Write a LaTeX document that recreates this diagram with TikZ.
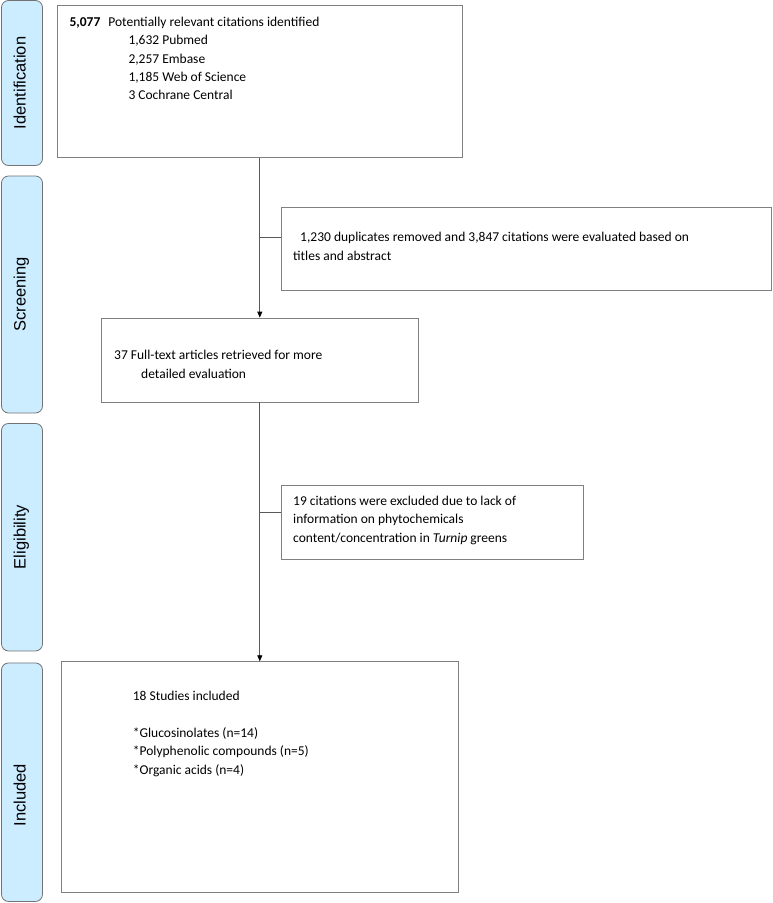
\documentclass[tikz,border=0pt]{standalone}
\usepackage{fontspec}
\setmainfont{Carlito}
\newfontfamily\phasefont{Liberation Sans}
\usetikzlibrary{arrows.meta}
\definecolor{phasefill}{RGB}{204,236,255}

\begin{document}
\begin{tikzpicture}[x=1pt, y=-1pt,
    box/.style={draw=black!50, line width=0.8pt, inner sep=0pt},
    phase/.style={draw=black!55, fill=phasefill, rounded corners=7pt, line width=0.8pt, inner sep=0pt, minimum width=41pt},
    phasetxt/.style={rotate=90, anchor=base, inner sep=0pt, font=\phasefont\fontsize{16.5}{20}\selectfont},
    txt/.style={align=left, inner sep=0pt, anchor=north west, font=\fontsize{13.5}{18.4}\selectfont},
    link/.style={draw=black!65, line width=0.8pt},
    arr/.style={link, -{Triangle[length=6pt,width=5pt,color=black]}}]
      \useasboundingbox (0, 0) rectangle (773, 903);
      % phase bars on the left
      \node [phase, minimum height=165pt] (identbar) at (22, 83) {};
      \node [phase, minimum height=237pt] (screenbar) at (22, 294.5) {};
      \node [phase, minimum height=227.5pt] (eligbar) at (22, 537.2) {};
      \node [phase, minimum height=238.5pt] (inclbar) at (22, 782.2) {};
      \node [phasetxt] (identlbl) at (25.5, 83) {Identification};
      \node [phasetxt] (screenlbl) at (25.5, 294.5) {Screening};
      \node [phasetxt] (eliglbl) at (25.5, 537) {Eligibility};
      \node [phasetxt] (incllbl) at (25.5, 795) {Included};
      % boxes
      \node [box, minimum width=404.4pt, minimum height=152pt] (ident) at (259.8, 81.7) {};
      \node [box, minimum width=490.7pt, minimum height=83pt] (dup) at (526.3, 248.5) {};
      \node [box, minimum width=317.3pt, minimum height=84pt] (full) at (259.8, 360) {};
      \node [box, minimum width=301.3pt, minimum height=74pt] (excl) at (432.3, 522) {};
      \node [box, minimum width=396.6pt, minimum height=231pt] (incl) at (259.8, 777.2) {};
      % texts
      \node [txt] (identtxt) at (69.3, 16.8) {\textbf{5,077}\hspace{8pt}Potentially relevant citations identified\\
        \hspace*{59pt}1,632 Pubmed\\ \hspace*{59pt}2,257 Embase\\
        \hspace*{59pt}1,185 Web of Science\\ \hspace*{59pt}3 Cochrane Central};
      \node [txt] (duptxt) at (293, 232.3) {\hspace*{7pt}1,230 duplicates removed and 3,847 citations were evaluated based on\\titles and abstract};
      \node [txt] (fulltxt) at (114, 350.3) {37 Full-text articles retrieved for more\\\hspace*{27pt}detailed evaluation};
      \node [txt] (excltxt) at (293, 495.8) {19 citations were excluded due to lack of\\information on phytochemicals\\content/concentration in \textit{Turnip} greens};
      \node [txt] (incltxt) at (132.7, 691) {18 Studies included\\[18.4pt]*Glucosinolates (n=14)\\*Polyphenolic compounds (n=5)\\*Organic acids (n=4)};
      % connectors
      \coordinate (j1) at (259.8, 237);
      \coordinate (j2) at (259.8, 512);
      \draw [arr] (ident) -- (full);
      \draw [arr] (full) -- (incl);
      \draw [link] (j1) -- (j1 -| dup.west);
      \draw [link] (j2) -- (j2 -| excl.west);
\end{tikzpicture}
\end{document}
